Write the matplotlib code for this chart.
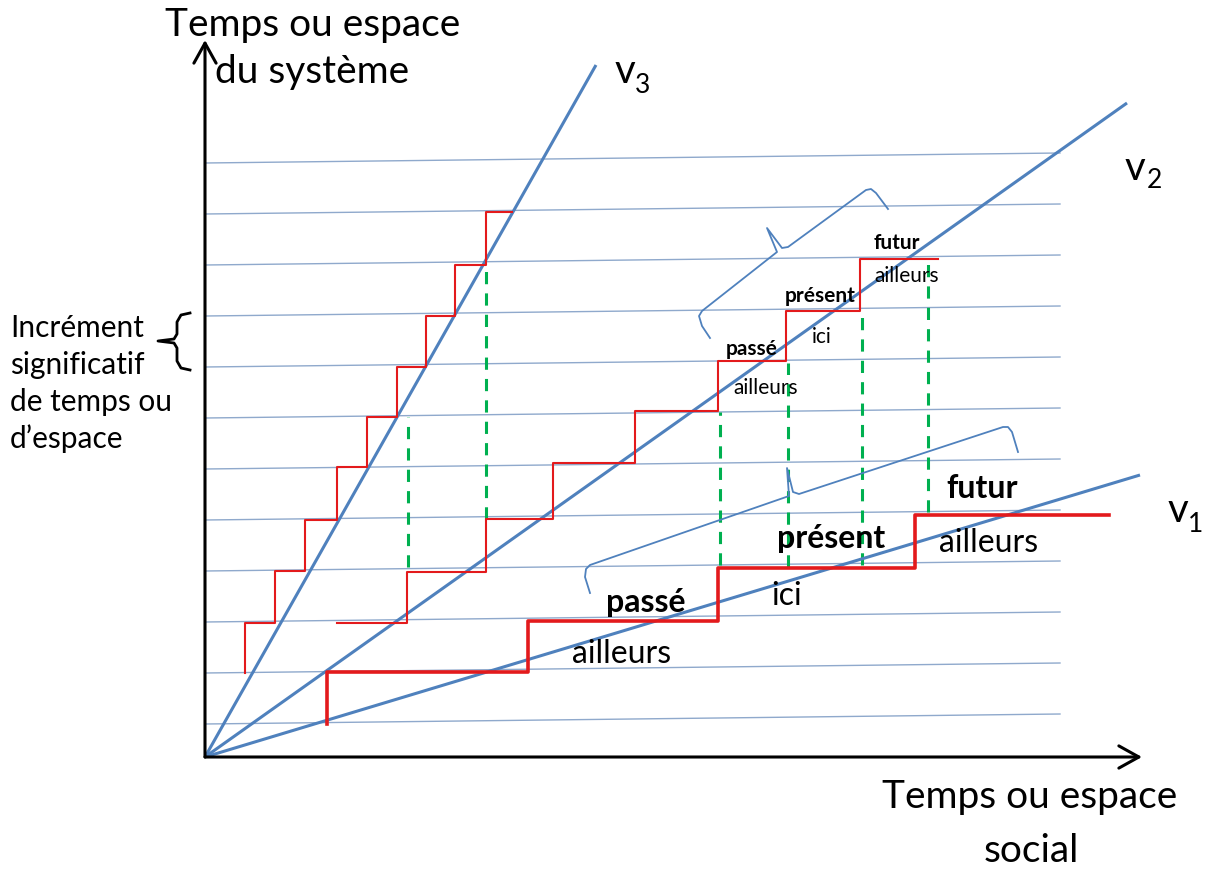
import matplotlib
matplotlib.use("Agg")
import matplotlib.pyplot as plt
from matplotlib.patches import FancyArrowPatch

plt.rcParams['font.family'] = ['Lato', 'DejaVu Sans']

# ---------------- data (diagram coordinates, origin at the axes corner) ----------------
# horizontal grid lines ("significant increments"), left level and rise to the right end
grid_levels = [33, 84, 135, 186, 237, 288, 339, 390, 441, 492, 543, 594]
grid_x_end = 855
grid_rise = 10

# velocity rays v1, v2, v3 (end points)
ray_names = ["v1", "v2", "v3"]
ray_end_x = [935, 922, 391]
ray_end_y = [282, 654, 692]

# staircases (steps-pre)
stairs_v3_x = [40, 70, 100, 132, 162, 192, 221, 250, 281, 307]
stairs_v3_y = [84, 134, 186, 237, 290, 340, 390, 441, 492, 545]
stairs_v2_x = [132, 202, 281, 348, 430, 513, 581, 655, 733]
stairs_v2_y = [134, 134, 185, 238, 294, 346, 396, 446, 498]
stairs_v1_x = [122, 323, 513, 710, 904]
stairs_v1_y = [33, 85, 136, 189, 242]

# green dashed correspondences
dash_x = [203, 281, 515, 583, 657, 723]
dash_top = [340, 492, 345, 394, 444, 497]
dash_bot = [190, 238, 192, 190, 192, 245]

# braces
brace_up_x = [505, 497, 494, 497, 572, 562, 577, 583, 661, 666, 671, 683]
brace_up_y = [419, 431, 441, 446, 505, 529, 509, 510, 567, 568, 564, 548]
brace_low_x = [385, 380, 381, 385, 584, 582, 588, 594, 798, 803, 807, 813]
brace_low_y = [164, 180, 188, 192, 261, 289, 265, 263, 330, 330, 325, 305]
brace_left_x = [-15, -24, -28, -28, -31, -47, -31, -28, -28, -24, -15]
brace_left_y = [444, 442, 435, 423, 418, 416, 414, 409, 396, 389, 387]

# labels
big_words = ["passé", "ailleurs", "présent", "ici", "futur", "ailleurs"]
big_bold = [True, False, True, False, True, False]
big_x = [441, 417, 626, 582, 777, 784]
big_y = [145, 94, 209, 152, 259, 205]
small_words = ["passé", "ailleurs", "présent", "ici", "futur", "ailleurs"]
small_bold = [True, False, True, False, True, False]
small_x = [547, 561, 615, 617, 692, 702]
small_y = [402, 363, 455, 414, 508, 475]

left_lines = ["Incrément", "significatif", "de temps ou", "d\u2019espace"]
left_y = [420, 383, 346, 309]

# ---------------- figure ----------------
fig = plt.figure(figsize=(12.09, 8.69), dpi=100)
ax = fig.add_axes([0, 0, 1, 1])
ax.set_xlim(-205, 1004)
ax.set_ylim(-112, 757)
ax.axis("off")

BLUE = "#4F81BD"
GRID = "#8FA9CC"
RED = "#E31A1C"
GREEN = "#00B050"

for lv in grid_levels:
    ax.plot([0, grid_x_end], [lv, lv + grid_rise], color=GRID, lw=1.0, zorder=1)

for ex, ey in zip(ray_end_x, ray_end_y):
    ax.plot([0, ex], [0, ey], color=BLUE, lw=2.2, zorder=3, solid_capstyle="butt")

ax.step(stairs_v3_x, stairs_v3_y, where="pre", color=RED, lw=1.5, zorder=4)
ax.step(stairs_v2_x, stairs_v2_y, where="pre", color=RED, lw=1.5, zorder=4)
ax.step(stairs_v1_x, stairs_v1_y, where="pre", color=RED, lw=2.6, zorder=4)

for x, t, b in zip(dash_x, dash_top, dash_bot):
    ax.plot([x, x], [b, t], color=GREEN, lw=2.2, ls=(0, (4, 3)), zorder=2)

ax.plot(brace_up_x, brace_up_y, color=BLUE, lw=1.3, zorder=3)
ax.plot(brace_low_x, brace_low_y, color=BLUE, lw=1.3, zorder=3)
ax.plot(brace_left_x, brace_left_y, color="black", lw=2.0, zorder=3,
        solid_joinstyle="round")

# axes arrows
for end in [(0, 717), (937, 0)]:
    ax.add_patch(FancyArrowPatch((0, 0), end, arrowstyle="->,head_length=9,head_width=5",
                                 color="black", lw=2.2, mutation_scale=1.6, zorder=5,
                                 shrinkA=0, shrinkB=0))

# axis titles
ax.text(108, 721, "Temps ou espace", fontsize=28, ha="center", va="baseline")
ax.text(107, 674, "du système", fontsize=28, ha="center", va="baseline")
ax.text(825, -51, "Temps ou espace", fontsize=28, ha="center", va="baseline")
ax.text(826, -105, "social", fontsize=28, ha="center", va="baseline")

for s, y in zip(left_lines, left_y):
    ax.text(-195, y, s, fontsize=21.5, ha="left", va="baseline")

# ray labels
for vx, vy, sx, sy, d in [(410, 674, 430, 664, "3"), (920, 577, 942, 569, "2"), (963, 235, 983, 225, "1")]:
    ax.text(vx, vy, "v", fontsize=29, ha="left", va="baseline")
    ax.text(sx, sy, d, fontsize=19, ha="left", va="baseline")

for w, b, x, y in zip(big_words, big_bold, big_x, big_y):
    ax.text(x, y, w, fontsize=23, fontweight="bold" if b else "normal",
            ha="center", va="baseline", zorder=6)
for w, b, x, y in zip(small_words, small_bold, small_x, small_y):
    ax.text(x, y, w, fontsize=15, fontweight="bold" if b else "normal",
            ha="center", va="baseline", zorder=6)

fig.savefig("out.png", dpi=100, facecolor="white")
